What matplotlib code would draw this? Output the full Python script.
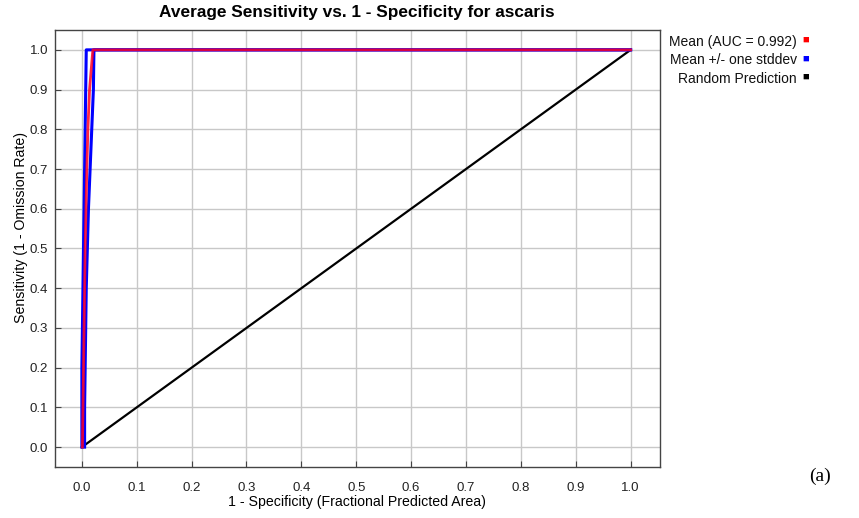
import numpy as np
import matplotlib
matplotlib.use("Agg")
import matplotlib.pyplot as plt

# sensitivity levels and fractional predicted area
sens = [0.0, 0.1, 0.2, 0.3, 0.4, 0.5, 0.6, 0.7, 0.8, 0.9, 1.0, 1.0]
mean_x = [0.001, 0.002, 0.003, 0.004, 0.005, 0.006, 0.0075, 0.009, 0.011, 0.014, 0.02, 1.0]
low_x = [0.0, 0.0, 0.0, 0.001, 0.002, 0.003, 0.004, 0.005, 0.006, 0.007, 0.008, 1.0]
high_x = [0.005, 0.005, 0.006, 0.007, 0.008, 0.010, 0.012, 0.015, 0.018, 0.021, 0.022, 1.0]
rand_x = [0.0, 1.0]
rand_y = [0.0, 1.0]

labels = ["Mean (AUC = 0.992)", "Mean +/- one stddev", "Random Prediction"]
colors = ["#ff0000", "#0000ff", "#000000"]

plt.rcParams['font.family'] = ['Liberation Sans', 'DejaVu Sans']

fig = plt.figure(figsize=(8.59, 5.18), dpi=100)
ax = fig.add_axes([0.064, 0.0985, 0.704, 0.8436])

ax.plot(rand_x, rand_y, color="black", lw=1.6, zorder=3)
ax.plot(low_x, sens, color="#0000ff", lw=2.2, zorder=4)
ax.plot(high_x, sens, color="#0000ff", lw=2.2, zorder=4)
ax.plot(mean_x, sens, color="#ff0022", lw=2.0, alpha=0.85, zorder=5)

ax.set_xlim(-0.049, 1.053)
ax.set_ylim(-0.05, 1.05)
ticks = np.round(np.arange(0, 1.01, 0.1), 1)
ax.set_xticks(ticks)
ax.set_yticks(ticks)
ax.set_xticklabels([f"{t:.1f}" for t in ticks], fontsize=9.5, color="#222222")
ax.set_yticklabels([f"{t:.1f}" for t in ticks], fontsize=9.5, color="#222222")
ax.tick_params(direction="in", length=4, width=0.8, color="#444444")
ax.tick_params(axis="x", pad=11)
ax.tick_params(axis="y", pad=5)
ax.grid(True, color="#c8c8c8", lw=1.0)
ax.set_axisbelow(True)
for s in ax.spines.values():
    s.set_color("#444444")
    s.set_linewidth(1.0)

ax.set_xlabel("1 - Specificity (Fractional Predicted Area)", fontsize=10.2)
ax.xaxis.set_label_coords(0.5, -0.064)
ax.set_ylabel("Sensitivity (1 - Omission Rate)", fontsize=10.2)
ax.yaxis.set_label_coords(-0.044, 0.547)
fig.text(0.415, 1 - 13 / 518, "Average Sensitivity vs. 1 - Specificity for ascaris",
         ha="center", va="center", fontsize=12.4, fontweight="bold")

# legend on the right, text right-aligned with a coloured square after it
for i, (lab, c) in enumerate(zip(labels, colors)):
    y = 1 - (42 + 18.5 * i) / 518
    fig.text(797 / 859, y, lab, ha="right", va="center", fontsize=10, color="#111111")
    fig.text(806 / 859, y + 0.004, "\u25a0", ha="center", va="center", fontsize=8, color=c)

fig.text(0.967, 0.063, "(a)", ha="right", va="bottom", fontsize=14,
         family=["Liberation Serif", "DejaVu Serif"])

fig.savefig("out.png", dpi=100)
